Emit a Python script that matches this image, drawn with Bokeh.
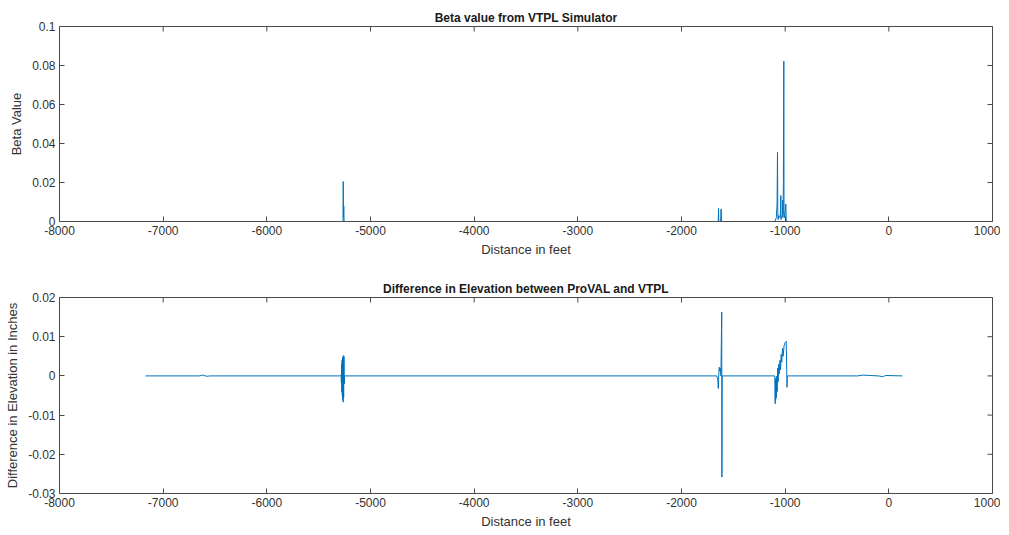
import math
from bokeh.plotting import figure
from bokeh.models import Range1d, FixedTicker, CustomJSTickFormatter
from bokeh.layouts import column
from bokeh.embed import file_html
from bokeh.resources import INLINE

# ---------------- data ----------------
x_range = (-8000, 1000)
x_ticks = [-8000, -7000, -6000, -5000, -4000, -3000, -2000, -1000, 0, 1000]
beta_ticks = [0, 0.02, 0.04, 0.06, 0.08, 0.1]
diff_ticks = [-0.03, -0.02, -0.01, 0, 0.01, 0.02]

beta_x = [-7170, -5270, -5265, -5263, -5261, -5258, -5255, -1650, -1645, -1643,
          -1640, -1622, -1619, -1617, -1614, -1100, -1085, -1078, -1074, -1071,
          -1068, -1062, -1050, -1044, -1042, -1040, -1030, -1025, -1023, -1021,
          -1017, -1015, -1013, -1011, -1005, -998, -994, -990, -985, 130]
beta_y = [0, 0, 0, 0.0205, 0.002, 0.008, 0, 0, 0, 0.0067,
          0, 0, 0.006, 0.0064, 0, 0, 0.002, 0.009, 0.0355, 0.004,
          0.001, 0.003, 0.002, 0.006, 0.0133, 0.001, 0.003, 0.004, 0.011, 0.002,
          0.02, 0.052, 0.0822, 0.005, 0.002, 0.006, 0.009, 0.001, 0, 0]

diff_x = [-7170, -6650, -6620, -6580, -6550, -5300, -5285, -5280, -5278, -5276,
          -5274, -5272, -5270, -5268, -5266, -5264, -5262, -5259, -5256, -5253,
          -5250, -1660, -1650, -1645, -1640, -1636, -1630, -1625, -1620, -1612,
          -1610, -1608, -1100, -1096, -1094, -1091, -1088, -1085, -1080, -1077,
          -1072, -1068, -1062, -1058, -1050, -1045, -1038, -1033, -1025, -1020,
          -1010, -1000, -990, -982, -979, -300, -250, -180, -100, -60,
          -30, 130]
diff_y = [0, 0, 0.0002, -0.0001, 0, 0, 0.0002, -0.002, 0.003, -0.004,
          0.004, -0.005, 0.0045, -0.006, 0.0048, -0.0067, 0.0052, -0.0055, 0.005, -0.002,
          0, 0, -0.001, -0.0032, 0.0005, 0.0022, 0.0012, 0.002, 0.0, 0.01625,
          -0.0258, 0, 0, -0.0071, -0.001, -0.006, -0.0005, -0.0055, 0.0, -0.004,
          0.002, -0.0015, 0.003, 0.0005, 0.004, 0.0015, 0.0055, 0.0035, 0.007, 0.005,
          0.0078, 0.0085, 0.0088, -0.0029, 0, 0, 0.0002, 0.0001, 0, -0.0002,
          0.0001, 0]

# ---------------- style ----------------
FONT = "Liberation Sans"
LINE = "#0072BD"
AX = "#4a4a4a"
TXT = "#333333"
fmt = "return String(Number(tick.toFixed(4)));"


def style_axis(ax, ticks):
    ax.ticker = FixedTicker(ticks=ticks)
    ax.formatter = CustomJSTickFormatter(code=fmt)
    ax.major_tick_in = 5
    ax.major_tick_out = 0
    ax.minor_tick_in = 0
    ax.minor_tick_out = 0
    ax.axis_line_color = AX
    ax.major_tick_line_color = AX
    ax.major_label_text_font = FONT
    ax.major_label_text_color = TXT
    ax.major_label_text_font_size = "12px"
    ax.major_label_standoff = 4
    ax.axis_label_text_font = FONT
    ax.axis_label_text_font_style = "normal"
    ax.axis_label_text_font_size = "13px"
    ax.axis_label_text_color = TXT


def make(title, ylabel, yr, yticks, h, bt, bb, xs, ys):
    p = figure(width=1000, height=h, output_backend="svg", toolbar_location=None,
               x_range=Range1d(*x_range), y_range=Range1d(*yr),
               min_border_left=59, min_border_right=8,
               min_border_top=bt, min_border_bottom=bb)
    p.title.text = title
    p.title.align = "center"
    p.title.text_font = FONT
    p.title.text_font_style = "bold"
    p.title.text_font_size = "12px"
    p.title.text_color = "#1a1a1a"
    p.title.standoff = 4
    p.grid.visible = False
    p.outline_line_color = AX
    p.background_fill_color = "white"
    p.border_fill_color = "white"

    style_axis(p.xaxis[0], x_ticks)
    style_axis(p.yaxis[0], yticks)
    p.xaxis[0].axis_label = "Distance in feet"
    p.xaxis[0].axis_label_standoff = 4
    p.yaxis[0].axis_label = ylabel
    p.yaxis[0].axis_label_standoff = 5

    # inward tick marks on the top and right edges of the box (clipped to frame)
    p.scatter(x_ticks, [yr[1]] * len(x_ticks), marker="dash", size=10,
              angle=math.pi / 2, line_color=AX, line_width=1)
    p.scatter([x_range[1]] * len(yticks), yticks, marker="dash", size=10,
              line_color=AX, line_width=1)

    p.line(xs, ys, line_color=LINE, line_width=1)
    return p


p1 = make("Beta value from VTPL Simulator", "Beta Value", (0, 0.1), beta_ticks,
          270, 26, 49, beta_x, beta_y)
p2 = make("Difference in Elevation between ProVAL and VTPL",
          "Difference in Elevation in Inches", (-0.03, 0.02), diff_ticks,
          264, 27, 41, diff_x, diff_y)

layout = column(p1, p2, spacing=0)
open("out.html", "w").write(file_html(layout, INLINE))
